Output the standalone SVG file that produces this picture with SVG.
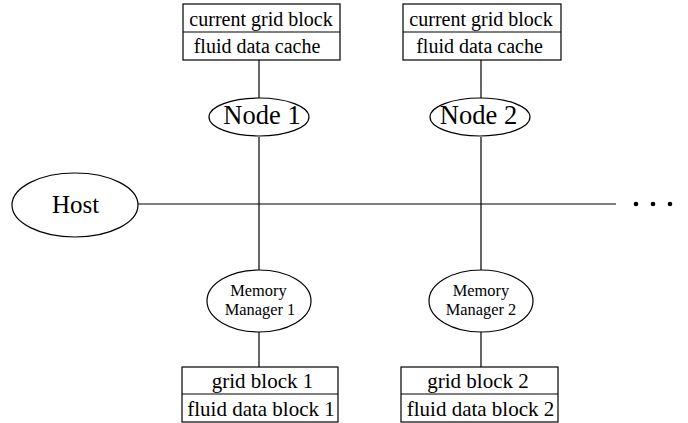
<svg xmlns="http://www.w3.org/2000/svg" width="688" height="423" viewBox="0 0 688 423">
<style>
.s{fill:#fff;stroke:#000;stroke-width:1.2}
.l{stroke:#000;stroke-width:1.2;fill:none}
text{font-family:"Liberation Serif","Times New Roman",serif;fill:#000;text-anchor:middle}
.b{font-size:20px}
.n{font-size:26.5px}
.h{font-size:25px}
.m{font-size:16.4px}
.g{font-size:21px}
</style>
<rect width="688" height="423" fill="#fff"/>
<g id="connectors">
<line class="l" x1="259" y1="60" x2="259" y2="98"/>
<line class="l" x1="481" y1="60" x2="481" y2="98"/>
<line class="l" x1="259" y1="137" x2="259" y2="270"/>
<line class="l" x1="481" y1="137" x2="481" y2="270"/>
<line class="l" x1="259" y1="332" x2="259" y2="367"/>
<line class="l" x1="481" y1="332" x2="481" y2="367"/>
<line class="l" x1="138" y1="204" x2="616" y2="204"/>
</g>
<g id="dots">
<circle cx="636" cy="204" r="2.3"/>
<circle cx="653" cy="204" r="2.3"/>
<circle cx="670" cy="204" r="2.3"/>
</g>
<g id="cache1">
<rect class="s" x="183" y="4" width="157" height="56"/>
<line class="l" x1="183" y1="32" x2="340" y2="32"/>
<text class="b" x="261" y="26">current grid block</text>
<text class="b" x="257" y="53">fluid data cache</text>
</g>
<g id="cache2">
<rect class="s" x="403" y="4" width="158" height="56"/>
<line class="l" x1="403" y1="32" x2="561" y2="32"/>
<text class="b" x="481" y="26">current grid block</text>
<text class="b" x="479.5" y="53">fluid data cache</text>
</g>
<g id="node1">
<ellipse class="s" cx="259" cy="117" rx="50" ry="19"/>
<text class="n" x="262" y="124">Node 1</text>
</g>
<g id="node2">
<ellipse class="s" cx="480" cy="117" rx="50" ry="19"/>
<text class="n" x="478.5" y="124">Node 2</text>
</g>
<g id="host">
<ellipse class="s" cx="75" cy="205" rx="63" ry="32"/>
<text class="h" x="75.5" y="213">Host</text>
</g>
<g id="mm1">
<ellipse class="s" cx="259" cy="301" rx="52" ry="31"/>
<text class="m" x="258.5" y="296">Memory</text>
<text class="m" x="260" y="314.5">Manager 1</text>
</g>
<g id="mm2">
<ellipse class="s" cx="481" cy="301" rx="52" ry="31"/>
<text class="m" x="481" y="296">Memory</text>
<text class="m" x="481" y="314.5">Manager 2</text>
</g>
<g id="block1">
<rect class="s" x="182" y="367" width="156" height="55"/>
<line class="l" x1="182" y1="394" x2="338" y2="394"/>
<text class="g" x="262.5" y="388">grid block 1</text>
<text class="g" x="261" y="416">fluid data block 1</text>
</g>
<g id="block2">
<rect class="s" x="401" y="367" width="157" height="55"/>
<line class="l" x1="401" y1="394" x2="558" y2="394"/>
<text class="g" x="478" y="388">grid block 2</text>
<text class="g" x="480.5" y="416">fluid data block 2</text>
</g>
</svg>
